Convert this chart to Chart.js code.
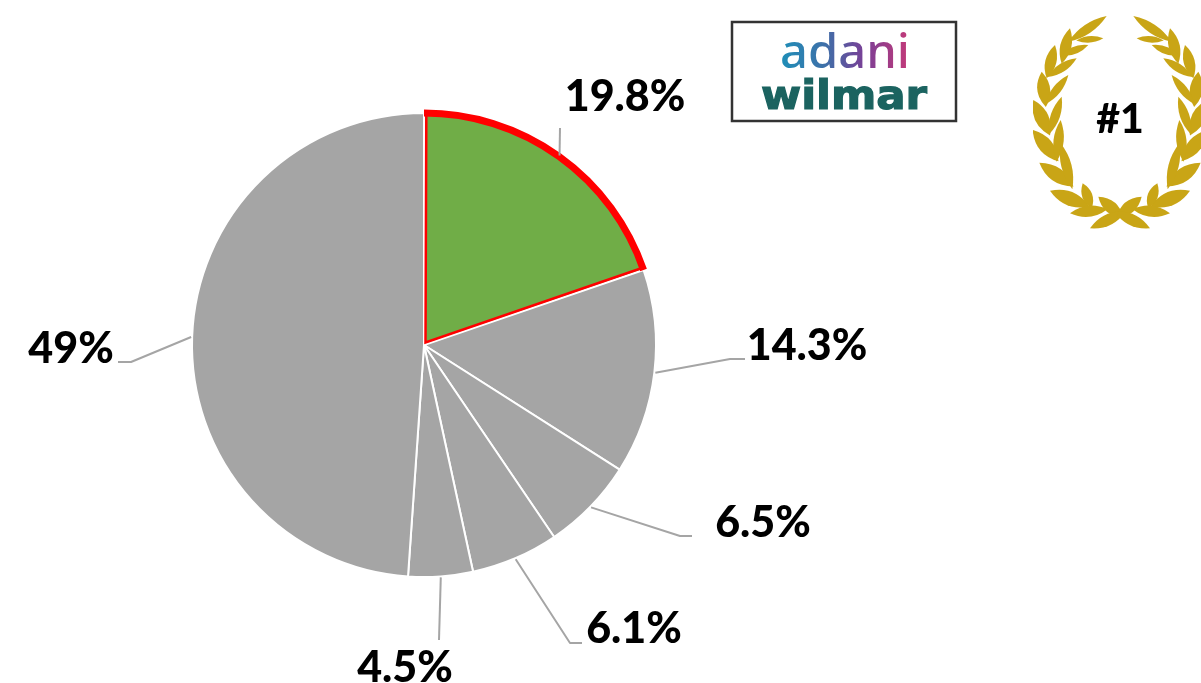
<!DOCTYPE html>
<html><head><meta charset="utf-8">
<script src="https://cdn.jsdelivr.net/npm/chart.js@4"></script>
<style>html,body{margin:0;padding:0;background:#fff}#w{position:relative;width:1201px;height:683px;overflow:hidden}canvas{display:block}</style>
</head><body><div id="w"><canvas id="c" width="1201" height="683"></canvas></div>
<script>
const categories = ['19.8%','14.3%','6.5%','6.1%','4.5%','49%'];
const shareValues = [19.8,14.3,6.5,6.1,4.5,49];
const sliceColors = ['#70AD47','#A5A5A5','#A5A5A5','#A5A5A5','#A5A5A5','#A5A5A5'];
const sliceBorders = ['#FFFFFF','#FFFFFF','#FFFFFF','#FFFFFF','#FFFFFF','#FFFFFF'];
const labelX = [625,807,763,634,405,71];
const labelY = [97,346,523,629,668,349];
const elbows = [[[560,128]],[[730,359],[745,359]],[[680,536],[692,536]],[[570,643],[582,643]],[[439,640]],[[131,362],[118,362]]];
const FONT = 'Lato, sans-serif';

const leaves = [
 [1068,110,1160,48,20],[1085,120,1150,115,14],[1030,170,1050,85,24],[1040,160,1105,135,16],
 [985,215,1005,135,24],[1000,220,1070,175,18],[975,300,965,215,28],[990,295,1045,225,18],
 [980,385,940,300,30],[995,380,1025,290,20],[1000,465,938,390,30],[1012,460,1022,360,22],
 [1040,545,958,488,30],[1050,540,1022,430,22],[1085,610,990,572,30],[1110,610,1088,550,22],
 [1140,630,1050,640,24],[1195,640,1135,590,26],[1195,645,1110,685,24]
];
function leaf(ctx,x1,y1,x2,y2,w){
  const mx=(x1+x2)/2,my=(y1+y2)/2,dx=x2-x1,dy=y2-y1,l=Math.hypot(dx,dy),nx=-dy/l,ny=dx/l;
  ctx.beginPath();ctx.moveTo(x1,y1);
  ctx.quadraticCurveTo(mx+nx*w,my+ny*w,x2,y2);
  ctx.quadraticCurveTo(mx-nx*w,my-ny*w,x1,y1);
  ctx.fill();
}
function drawWreath(ctx){
  ctx.save();
  ctx.beginPath();ctx.rect(1033,14,168,215);ctx.clip();
  ctx.fillStyle='#C9A516';
  const map=v=>v/3;
  for(const mirror of [false,true]){
    ctx.save();
    if(mirror){ctx.translate(2*1120,0);ctx.scale(-1,1);}
    for(const [a,b,c,d,w] of leaves){
      const bx=a-(c-a)*.25,by=b-(d-b)*.25;
      leaf(ctx,720+map(bx),map(by),720+map(c),map(d),map(w)*1.4);
    }
    ctx.restore();
  }
  ctx.restore();
  ctx.fillStyle='#000';ctx.font='900 41px '+FONT;ctx.textAlign='center';ctx.textBaseline='middle';
  ctx.fillText('#1',1120,120);
}
function fitText(ctx,text,cx,base,width,stroke){
  const w=ctx.measureText(text).width;
  ctx.save();ctx.translate(cx,base);ctx.scale(width/w,1);
  if(stroke){ctx.strokeStyle=ctx.fillStyle;ctx.lineWidth=stroke;ctx.strokeText(text,0,0);}
  ctx.fillText(text,0,0);ctx.restore();
}
function drawLogo(ctx){
  ctx.save();
  ctx.strokeStyle='#333';ctx.lineWidth=2.5;
  ctx.strokeRect(732,22,224,99);
  ctx.textAlign='center';ctx.textBaseline='alphabetic';
  ctx.font='500 48px "Noto Sans", sans-serif';
  const tw=ctx.measureText('adani').width;
  const g=ctx.createLinearGradient(-tw/2,0,tw/2,0);
  g.addColorStop(0,'#1E8FB8');g.addColorStop(.35,'#3F6FA8');g.addColorStop(.65,'#7A3F96');g.addColorStop(1,'#C43A78');
  ctx.fillStyle=g;
  fitText(ctx,'adani',845,68,130);
  ctx.fillStyle='#1B6360';ctx.font='bold 40px "DejaVu Sans", sans-serif';
  fitText(ctx,'wilmar',844,109,166,1.2);
  ctx.restore();
}
const overlay={id:'overlay',afterDatasetsDraw(chart){
  const ctx=chart.ctx,arcs=chart.getDatasetMeta(0).data;
  const a0=arcs[0].getProps(['x','y','startAngle','endAngle','outerRadius'],true);
  // red outline of the highlighted slice: thin radial edges, thick rim
  ctx.save();ctx.strokeStyle='#FF0000';ctx.lineWidth=2.5;ctx.lineJoin='miter';
  const inset=0.01;
  ctx.beginPath();
  ctx.moveTo(a0.x+Math.cos(a0.startAngle+inset)*a0.outerRadius,a0.y+Math.sin(a0.startAngle+inset)*a0.outerRadius);
  ctx.lineTo(a0.x+1.5,a0.y-2.5);
  ctx.lineTo(a0.x+Math.cos(a0.endAngle-inset)*a0.outerRadius,a0.y+Math.sin(a0.endAngle-inset)*a0.outerRadius);
  ctx.stroke();
  ctx.lineWidth=7;ctx.lineCap='butt';
  ctx.beginPath();ctx.arc(a0.x,a0.y,a0.outerRadius,a0.startAngle,a0.endAngle);ctx.stroke();ctx.restore();
  // leader lines
  ctx.save();ctx.strokeStyle='#A5A5A5';ctx.lineWidth=2;ctx.lineJoin='round';
  arcs.forEach((arc,i)=>{
    const p=arc.getProps(['x','y','startAngle','endAngle','outerRadius'],true);
    const m=(p.startAngle+p.endAngle)/2,r=p.outerRadius+1;
    ctx.beginPath();ctx.moveTo(p.x+Math.cos(m)*r,p.y+Math.sin(m)*r);
    elbows[i].forEach(q=>ctx.lineTo(q[0],q[1]));ctx.stroke();
  });
  ctx.restore();
  // data labels
  ctx.save();ctx.fillStyle='#000';ctx.font='900 43px '+FONT;ctx.textAlign='center';ctx.textBaseline='middle';
  categories.forEach((t,i)=>ctx.fillText(t,labelX[i],labelY[i]));
  ctx.restore();
  drawLogo(ctx);drawWreath(ctx);
}};
new Chart(document.getElementById('c'),{
  type:'pie',
  data:{labels:categories,datasets:[{data:shareValues,backgroundColor:sliceColors,borderColor:sliceBorders,borderWidth:2,borderAlign:'center',offset:0}]},
  options:{responsive:false,animation:false,layout:{padding:{left:191,right:544,top:112,bottom:105}},
    plugins:{legend:{display:false},tooltip:{enabled:false},title:{display:false}}},
  plugins:[overlay]
});
</script></body></html>
